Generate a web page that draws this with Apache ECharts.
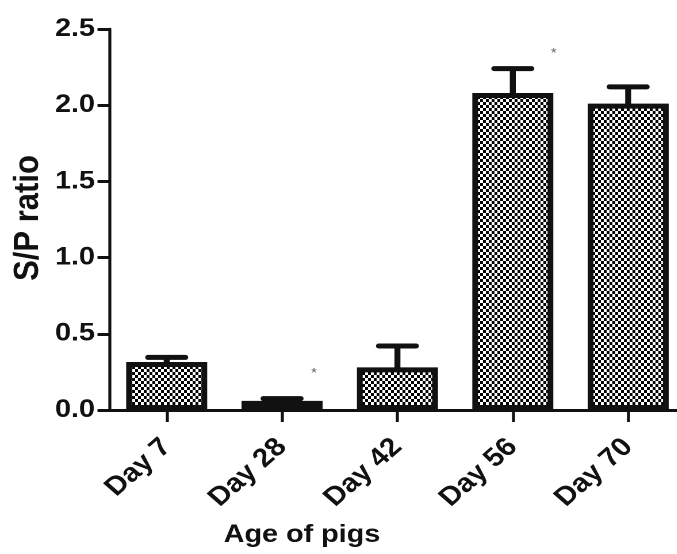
<!DOCTYPE html>
<html>
<head>
<meta charset="utf-8">
<script src="https://cdn.jsdelivr.net/npm/echarts@6/dist/echarts.min.js"></script>
<style>
  html, body { margin: 0; padding: 0; background: #fff; overflow: hidden; }
  #wrap { width: 677px; height: 554px; overflow: hidden; }
  #chart { height: 554px; transform-origin: 0 0; }
</style>
</head>
<body>
<div id="wrap"><div id="chart"></div></div>
<script>
// Antibody S/P ratio by age of pigs (mean + SEM)
const categories = ['Day 7', 'Day 28', 'Day 42', 'Day 56', 'Day 70'];
const meanValues = [0.315, 0.06, 0.28, 2.08, 2.01];
const errorTops = [0.345, 0.075, 0.42, 2.24, 2.12];
const yTicks = ['0.0', '0.5', '1.0', '1.5', '2.0', '2.5'];
// significance marks: [category index, height]
const starMarks = [[1, 0.24], [3, 2.34]];

// the figure is laid out in a narrower box and widened horizontally;
// the box runs a little past the right edge so the last band is not squeezed
const SX = 1.15;
const EXTRA = 30;
const W = 677 / SX + EXTRA;
const chartEl = document.getElementById('chart');
chartEl.style.width = W + 'px';
chartEl.style.transform = 'scaleX(' + SX + ')';

const FONT = '"Liberation Sans", Arial, Helvetica, sans-serif';
const INK = '#111';

// checkerboard fill used for the bars (drawn at double size, scaled down in the pattern)
const tile = document.createElement('canvas');
tile.width = 10; tile.height = 12;
const tctx = tile.getContext('2d');
tctx.fillStyle = '#fff';
tctx.fillRect(0, 0, 10, 12);
tctx.fillStyle = '#000';
tctx.fillRect(0, 0, 5, 6);
tctx.fillRect(5, 6, 5, 6);

const gridLeft = 109 / SX;
const catWidth = 115.3 / SX;
const gridRight = W - gridLeft - catWidth * categories.length;

const chart = echarts.init(chartEl, null, { renderer: 'canvas', devicePixelRatio: 2 });

chart.setOption({
  animation: false,
  backgroundColor: '#fff',
  grid: { left: gridLeft, right: gridRight, top: 29, bottom: 144, containLabel: false },
  xAxis: {
    type: 'category',
    data: categories,
    boundaryGap: true,
    axisLine: { show: true, lineStyle: { color: INK, width: 3 } },
    axisTick: { show: true, alignWithLabel: true, length: 12, lineStyle: { color: INK, width: 2.6 } },
    axisLabel: {
      rotate: 45, margin: 33, color: INK, fontFamily: FONT, fontWeight: 'bold', fontSize: 26,
      interval: 0
    },
    splitLine: { show: false }
  },
  yAxis: {
    type: 'value',
    min: 0, max: 2.5, interval: 0.5,
    axisLine: { show: true, lineStyle: { color: INK, width: 2.6 } },
    axisTick: { show: true, length: 10, lineStyle: { color: INK, width: 3 } },
    axisLabel: {
      margin: 12.2, color: INK, fontFamily: FONT, fontWeight: 'bold', fontSize: 25,
      formatter: function (v) { return yTicks[Math.round(v / 0.5)]; }
    },
    splitLine: { show: false }
  },
  graphic: [
    {
      type: 'text', x: 28 / SX, y: 218, rotation: Math.PI / 2,
      style: { text: 'S/P ratio', fill: INK, font: 'bold 31px ' + FONT, textAlign: 'center', textVerticalAlign: 'middle' }
    },
    {
      type: 'text', x: 302 / SX, y: 535,
      style: { text: 'Age of pigs', fill: INK, font: 'bold 25px ' + FONT, textAlign: 'center', textVerticalAlign: 'middle' }
    }
  ],
  series: [
    {
      type: 'bar',
      data: meanValues,
      barWidth: 81 / SX,
      itemStyle: {
        color: { image: tile, repeat: 'repeat', scaleX: 0.5, scaleY: 0.5 },
        borderColor: INK,
        borderWidth: 5
      },
      z: 2
    },
    {
      type: 'custom',
      data: meanValues.map(function (m, i) { return [i, m, errorTops[i]]; }),
      encode: { x: 0, y: 2 },
      renderItem: function (params, api) {
        const top = api.coord([api.value(0), api.value(2)]);
        const base = api.coord([api.value(0), api.value(1)]);
        const half = 16.2;
        return {
          type: 'group',
          children: [
            { type: 'line', shape: { x1: top[0], y1: base[1] + 3, x2: top[0], y2: top[1] },
              style: { stroke: INK, lineWidth: 5.2 } },
            { type: 'line', shape: { x1: top[0] - half, y1: top[1], x2: top[0] + half, y2: top[1] },
              style: { stroke: INK, lineWidth: 5, lineCap: 'round' } }
          ]
        };
      },
      z: 3
    },
    {
      type: 'scatter',
      data: [
        { value: starMarks[0], label: { offset: [32 / SX, 0] } },
        { value: starMarks[1], label: { offset: [41 / SX, 0] } }
      ],
      symbolSize: 0,
      label: {
        show: true, formatter: '*', position: 'inside',
        color: '#333', fontFamily: FONT, fontSize: 13
      },
      z: 4
    }
  ]
});
</script>
</body>
</html>
